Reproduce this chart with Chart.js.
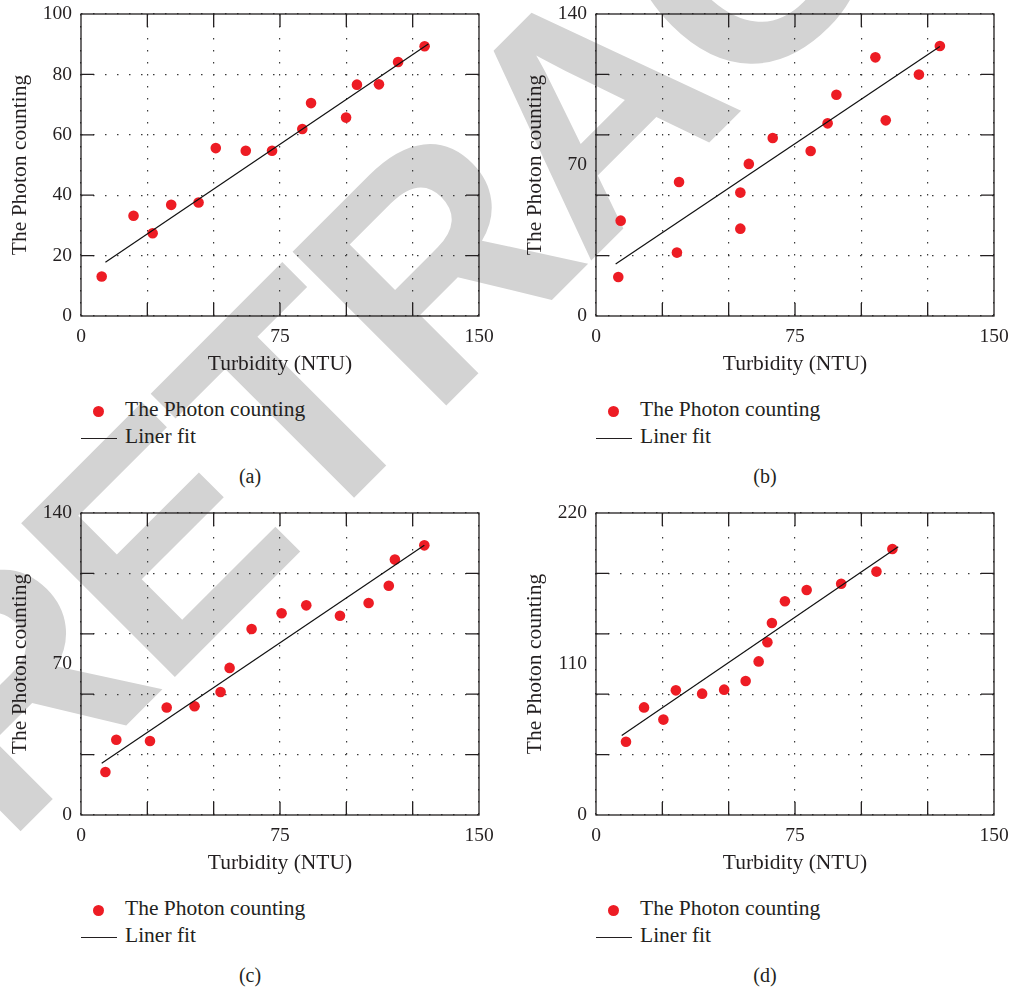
<!DOCTYPE html>
<html>
<head>
<meta charset="utf-8">
<script src="https://cdn.jsdelivr.net/npm/chart.js@4"></script>
<style>
body { margin: 0; background: #fff; width: 1012px; height: 991px; overflow: hidden; position: relative;
       font-family: "Liberation Serif", "DejaVu Serif", serif; color: #231f20; }
#stamp { position: absolute; left: 6px; top: 579px; font: bold 316px/1 "Liberation Sans", Arial, sans-serif;
         letter-spacing: -10px; color: #d3d3d3; white-space: nowrap; transform-origin: 0 267.5px;
         transform: rotate(-45deg); z-index: 0; }
.panel { position: absolute; width: 497px; height: 495px; z-index: 1; }
.panel canvas { position: absolute; left: 0; top: 0; }
.leg { position: absolute; left: 125px; font-size: 21.5px; line-height: 1; white-space: nowrap; }
.dot { position: absolute; left: 93px; top: 405.5px; width: 11px; height: 11px; border-radius: 50%; background: #ed1c24; }
.ln { position: absolute; left: 81px; top: 437.5px; width: 36px; height: 1.3px; background: #231f20; }
.cap { position: absolute; left: 0; width: 500px; top: 466px; text-align: center; font-size: 20px; line-height: 1; }
</style>
</head>
<body>
<div id="stamp">RETRACTED</div>

<div class="panel" style="left:0;top:0">
  <canvas id="ca" width="497" height="390"></canvas>
  <div class="dot"></div><div class="leg" style="top:398.7px">The Photon counting</div>
  <div class="ln"></div><div class="leg" style="top:426px">Liner fit</div>
  <div class="cap">(a)</div>
</div>
<div class="panel" style="left:515px;top:0">
  <canvas id="cb" width="497" height="390"></canvas>
  <div class="dot"></div><div class="leg" style="top:398.7px">The Photon counting</div>
  <div class="ln"></div><div class="leg" style="top:426px">Liner fit</div>
  <div class="cap">(b)</div>
</div>
<div class="panel" style="left:0;top:499px">
  <canvas id="cc" width="497" height="390"></canvas>
  <div class="dot"></div><div class="leg" style="top:398.7px">The Photon counting</div>
  <div class="ln"></div><div class="leg" style="top:426px">Liner fit</div>
  <div class="cap">(c)</div>
</div>
<div class="panel" style="left:515px;top:499px">
  <canvas id="cd" width="497" height="390"></canvas>
  <div class="dot"></div><div class="leg" style="top:398.7px">The Photon counting</div>
  <div class="ln"></div><div class="leg" style="top:426px">Liner fit</div>
  <div class="cap">(d)</div>
</div>

<script>
// x axis, shared by all four panels
var xGrid = [0, 25, 50, 75, 100, 125, 150];
var xLabels = [0, 75, 150];

// y axis ticks: grid lines and labelled values
var yGridA = [0, 20, 40, 60, 80, 100];
var yLabelsA = [0, 20, 40, 60, 80, 100];
var yGridB = [0, 28, 56, 84, 112, 140];
var yLabelsB = [0, 70, 140];
var yGridD = [0, 44, 88, 132, 176, 220];
var yLabelsD = [0, 110, 220];

// (a)
var turbA = [7.8, 19.8, 27.0, 34.0, 44.3, 50.8, 62.1, 72.0, 83.4, 86.7, 99.9, 104.0, 112.3, 119.5, 129.5];
var countA = [13.1, 33.2, 27.4, 36.8, 37.6, 55.6, 54.7, 54.7, 61.9, 70.5, 65.7, 76.6, 76.7, 84.1, 89.3];
var fitXA = [9.2, 130.9];
var fitYA = [17.8, 90.1];

// (b)
var turbB = [8.4, 9.3, 30.5, 31.3, 54.4, 54.4, 57.6, 66.6, 80.9, 87.3, 90.6, 105.3, 109.2, 121.7, 129.6];
var countB = [18.1, 44.2, 29.4, 62.1, 40.5, 57.2, 70.5, 82.5, 76.5, 89.3, 102.6, 119.9, 90.7, 111.9, 125.2];
var fitXB = [7.4, 129.6];
var fitYB = [24.1, 124.9];

// (c)
var turbC = [9.2, 13.3, 26.0, 32.3, 42.8, 52.6, 56.0, 64.3, 75.6, 84.9, 97.6, 108.4, 116.0, 118.3, 129.4];
var countC = [19.9, 34.9, 34.3, 49.8, 50.4, 57.0, 68.2, 86.2, 93.5, 97.2, 92.4, 98.3, 106.3, 118.4, 125.0];
var fitXC = [7.8, 129.4];
var fitYC = [24.0, 125.0];

// (d)
var turbD = [11.3, 18.1, 25.4, 30.1, 40.0, 48.3, 56.4, 61.3, 64.6, 66.3, 71.2, 79.4, 92.4, 105.7, 111.7];
var countD = [53.4, 78.4, 69.5, 90.8, 88.4, 91.3, 97.6, 111.9, 125.8, 139.9, 155.7, 163.9, 168.5, 177.3, 193.8];
var fitXD = [9.7, 113.9];
var fitYD = [58.0, 195.5];

Chart.defaults.font.family = '"Liberation Serif", "DejaVu Serif", serif';
Chart.defaults.color = "#231f20";

// box round the plot area + short solid ticks pointing inwards
var framePlugin = {
  id: "frame",
  beforeDatasetsDraw: function (chart, args, opts) {
    var ctx = chart.ctx, a = chart.chartArea;
    var sx = chart.scales.x, sy = chart.scales.y;
    var len = 13;
    ctx.save();
    ctx.strokeStyle = "#231f20";
    ctx.lineWidth = 1.3;
    ctx.beginPath();
    opts.xGrid.slice(1, -1).forEach(function (v) {
      var px = sx.getPixelForValue(v);
      ctx.moveTo(px, a.bottom); ctx.lineTo(px, a.bottom - len);
      ctx.moveTo(px, a.top); ctx.lineTo(px, a.top + len);
    });
    opts.yGrid.slice(1, -1).forEach(function (v) {
      var py = sy.getPixelForValue(v);
      ctx.moveTo(a.left, py); ctx.lineTo(a.left + len, py);
      ctx.moveTo(a.right, py); ctx.lineTo(a.right - len, py);
    });
    ctx.stroke();
    ctx.strokeRect(a.left, a.top, a.right - a.left, a.bottom - a.top);
    ctx.restore();
  }
};

function gridColor(vals) {
  return function (c) {
    return c.tick && vals.indexOf(c.tick.value) >= 0 ? "#3a3a3a" : "rgba(0,0,0,0)";
  };
}

function makePanel(id, xs, ys, fitX, fitY, yMax, yGrid, yLabels) {
  var pts = xs.map(function (x, i) { return { x: x, y: ys[i] }; });
  var fit = fitX.map(function (x, i) { return { x: x, y: fitY[i] }; });
  var yTicks = yGrid.concat(yLabels).filter(function (v, i, arr) { return arr.indexOf(v) === i; })
                    .sort(function (p, q) { return p - q; });
  return new Chart(document.getElementById(id), {
    type: "scatter",
    data: {
      datasets: [
        { label: "Liner fit", type: "line", data: fit, borderColor: "#111", borderWidth: 1.2,
          pointRadius: 0, fill: false, tension: 0 },
        { label: "The Photon counting", data: pts, backgroundColor: "#ed1c24", borderWidth: 0,
          pointRadius: 5.3, pointHoverRadius: 5.3 }
      ]
    },
    options: {
      responsive: false,
      animation: false,
      layout: { padding: { left: 0, right: 18, top: 14, bottom: 0 } },
      plugins: {
        legend: { display: false },
        tooltip: { enabled: false },
        frame: { xGrid: xGrid, yGrid: yGrid }
      },
      scales: {
        x: {
          type: "linear", min: 0, max: 150,
          afterBuildTicks: function (s) { s.ticks = xGrid.map(function (v) { return { value: v }; }); },
          afterFit: function (s) { s.height = 74; s.paddingLeft = 0; s.paddingRight = 0; },
          ticks: { padding: 9, autoSkip: false, maxRotation: 0, font: { size: 19.5 }, color: "#231f20",
                   callback: function (v) { return xLabels.indexOf(v) >= 0 ? String(v) : ""; } },
          grid: { color: gridColor(xGrid), lineWidth: 1.2, drawTicks: false },
          border: { display: false, dash: [1.5, 10.5] },
          title: { display: true, text: "Turbidity (NTU)", font: { size: 21.5 }, color: "#231f20",
                   padding: { top: 0, bottom: 12.4 } }
        },
        y: {
          type: "linear", min: 0, max: yMax,
          afterBuildTicks: function (s) { s.ticks = yTicks.map(function (v) { return { value: v }; }); },
          afterFit: function (s) { s.width = 81; s.paddingTop = 0; s.paddingBottom = 0; },
          ticks: { padding: 9, autoSkip: false, font: { size: 19.5 }, color: "#231f20",
                   callback: function (v) { return yLabels.indexOf(v) >= 0 ? String(v) : ""; } },
          grid: { color: gridColor(yGrid), lineWidth: 1.2, drawTicks: false },
          border: { display: false, dash: [1.5, 10.5] },
          title: { display: true, text: "The Photon counting", font: { size: 21.5 }, color: "#231f20",
                   padding: { top: 7.4, bottom: 0 } }
        }
      }
    },
    plugins: [framePlugin]
  });
}

makePanel("ca", turbA, countA, fitXA, fitYA, 100, yGridA, yLabelsA);
makePanel("cb", turbB, countB, fitXB, fitYB, 140, yGridB, yLabelsB);
makePanel("cc", turbC, countC, fitXC, fitYC, 140, yGridB, yLabelsB);
makePanel("cd", turbD, countD, fitXD, fitYD, 220, yGridD, yLabelsD);
</script>
</body>
</html>
